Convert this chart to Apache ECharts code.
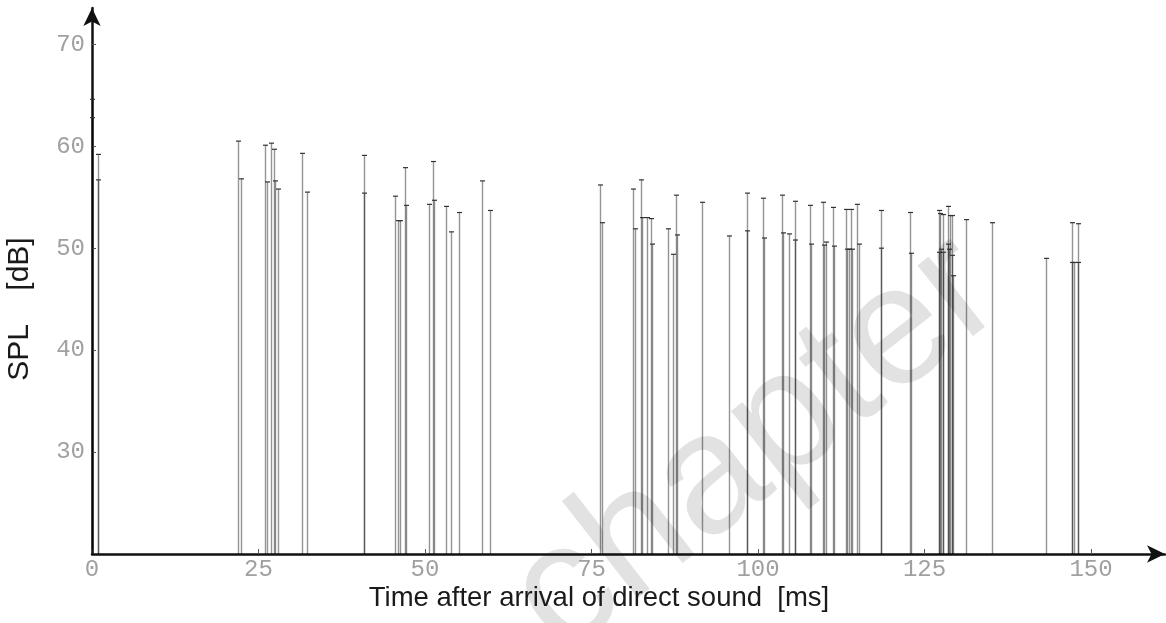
<!DOCTYPE html>
<html>
<head>
<meta charset="utf-8">
<title>Reflectogram</title>
<script src="https://cdn.jsdelivr.net/npm/echarts@6/dist/echarts.min.js"></script>
<style>
  html, body { margin: 0; padding: 0; background: #fff; }
  #main { width: 1166px; height: 623px; }
</style>
</head>
<body>
<div id="main"></div>
<script>
// arrival times of the reflections [ms]
var times = [
  0, 0, 0.9, 0.9,
  21.9, 22.4, 26.0, 26.2, 26.9, 27.3, 27.5, 27.9, 31.6, 32.3,
  40.8, 40.8, 45.5, 45.9, 46.3, 47.0, 47.2, 50.6, 51.2, 51.3,
  53.2, 53.9, 55.1, 58.5, 59.8,
  76.3, 76.6, 81.3, 81.5, 82.5, 82.6, 83.4, 84.0, 84.1, 86.5,
  87.2, 87.7, 87.8, 91.6, 95.7, 98.3, 98.4, 100.7, 100.9,
  103.6, 103.7, 104.6, 105.5, 105.6, 107.8, 107.9, 109.8, 109.9,
  110.2, 111.3, 111.4, 113.2, 113.4, 113.7, 113.9, 114.1, 114.8,
  115.1, 118.4, 118.5, 122.8, 123.0,
  127.1, 127.1, 127.3, 127.4, 127.7, 127.8, 128.5, 128.5, 128.6,
  128.8, 129.1, 129.1, 129.2, 131.2, 135.1, 143.2,
  147.1, 147.2, 147.4, 148.0, 148.1
];
// sound pressure level of each reflection [dB]
var levels = [
  64.6, 62.8, 59.2, 56.7,
  60.5, 56.8, 60.1, 56.5, 60.3, 59.7, 56.6, 55.8, 59.3, 55.5,
  59.1, 55.4, 55.1, 52.7, 52.7, 57.9, 54.2, 54.3, 58.5, 54.7,
  54.1, 51.6, 53.5, 56.6, 53.7,
  56.2, 52.5, 55.8, 51.9, 56.7, 53.0, 53.0, 52.9, 50.4, 51.9,
  49.4, 55.2, 51.3, 54.5, 51.2, 55.4, 51.7, 54.9, 51.0,
  55.2, 51.5, 51.4, 54.6, 50.8, 54.2, 50.4, 54.5, 50.3,
  50.6, 54.0, 50.2, 53.8, 49.9, 49.9, 53.8, 49.9, 54.3,
  50.4, 53.7, 50.0, 53.5, 49.5,
  53.7, 49.6, 53.4, 49.9, 53.3, 49.6, 54.1, 50.4, 49.9,
  53.2, 53.2, 49.3, 47.3, 52.8, 52.5, 49.0,
  52.5, 48.6, 48.6, 52.4, 48.6
];
var xTicks = [0, 25, 50, 75, 100, 125, 150];
var yTicks = [30, 40, 50, 60, 70];

var spikes = times.map(function (t, i) { return [t, levels[i]]; });
var BASE = 20;

function renderSpike(params, api) {
  var top = api.coord([api.value(0), api.value(1)]);
  var base = api.coord([api.value(0), BASE]);
  var x = Math.round(top[0]) + 0.5;
  return {
    type: 'group',
    children: [
      {
        type: 'line',
        shape: { x1: x, y1: base[1], x2: x, y2: top[1] },
        style: { stroke: 'rgba(0,0,0,0.42)', lineWidth: 1.4 }
      },
      {
        type: 'line',
        shape: { x1: x - 2.5, y1: top[1], x2: x + 2.5, y2: top[1] },
        style: { stroke: '#333', lineWidth: 1.2 }
      }
    ]
  };
}

var myChart = echarts.init(document.getElementById('main'));
var option = {
  backgroundColor: '#fff',
  animation: false,
  grid: { left: 92, right: 1, top: 8, bottom: 69 },
  xAxis: {
    type: 'value',
    min: 0,
    max: 161.1,
    interval: 25,
    axisLine: {
      show: true,
      symbol: ['none', 'arrow'],
      symbolSize: [13, 18],
      lineStyle: { color: '#111', width: 2.5 }
    },
    axisTick: {
      show: true, inside: true, length: 5,
      customValues: xTicks,
      lineStyle: { color: '#555', width: 1 }
    },
    axisLabel: {
      customValues: xTicks,
      margin: 4,
      color: '#a0a0a0',
      fontFamily: 'Liberation Mono',
      fontSize: 24
    },
    splitLine: { show: false }
  },
  yAxis: {
    type: 'value',
    min: 20,
    max: 73.56,
    interval: 10,
    axisLine: {
      show: true,
      symbol: ['none', 'arrow'],
      symbolSize: [13, 18],
      lineStyle: { color: '#111', width: 2.5 }
    },
    axisTick: {
      show: true, inside: true, length: 4,
      customValues: yTicks,
      lineStyle: { color: '#555', width: 1 }
    },
    axisLabel: {
      customValues: yTicks,
      margin: 7,
      color: '#a0a0a0',
      fontFamily: 'Liberation Mono',
      fontSize: 24
    },
    splitLine: { show: false }
  },
  graphic: [
    {
      type: 'text',
      z: -10,
      x: 756, y: 446,
      rotation: 38 * Math.PI / 180,
      style: {
        text: 'chapter',
        fill: '#e2e2e2',
        font: '170px "Liberation Sans"',
        align: 'center',
        verticalAlign: 'middle'
      }
    },
    {
      type: 'text',
      x: 20, y: 309,
      rotation: Math.PI / 2,
      style: {
        text: 'SPL    [dB]',
        fill: '#1a1a1a',
        font: '30px "Liberation Sans"',
        align: 'center',
        verticalAlign: 'middle'
      }
    },
    {
      type: 'text',
      x: 599, y: 598,
      style: {
        text: 'Time after arrival of direct sound  [ms]',
        fill: '#1a1a1a',
        font: '27.5px "Liberation Sans"',
        align: 'center',
        verticalAlign: 'middle'
      }
    }
  ],
  series: [
    {
      name: 'reflections',
      type: 'custom',
      renderItem: renderSpike,
      data: spikes,
      z: 2
    }
  ]
};
myChart.setOption(option);
</script>
</body>
</html>
